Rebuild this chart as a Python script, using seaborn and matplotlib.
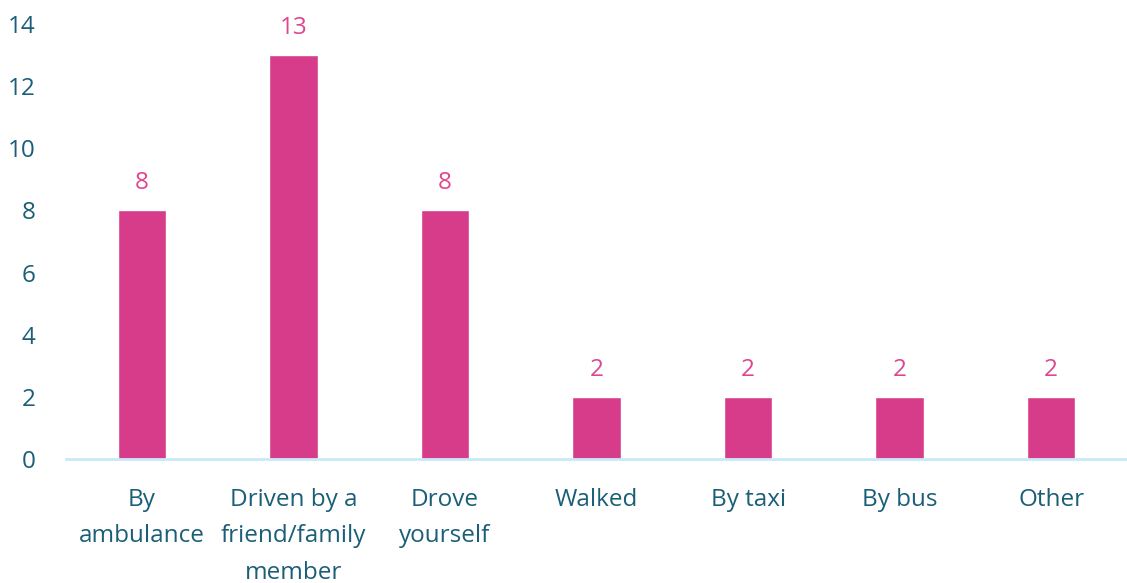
import matplotlib
matplotlib.use("Agg")
import matplotlib.pyplot as plt
import seaborn as sns
import pandas as pd

categories = ["By\nambulance", "Driven by a\nfriend/family\nmember", "Drove\nyourself",
              "Walked", "By taxi", "By bus", "Other"]
values = [8, 13, 8, 2, 2, 2, 2]
yticks = [0, 2, 4, 6, 8, 10, 12, 14]

bar_color = "#D63C8A"
label_color = "#E0458F"
text_color = "#1B5E78"
axis_color = "#C8EAF7"

sns.set_theme(style="white")
plt.rcParams['font.family'] = ['Open Sans', 'DejaVu Sans']

df = pd.DataFrame({"cat": categories, "val": values})

fig = plt.figure(figsize=(11.27, 5.83), dpi=100)
ax = fig.add_axes([66/1127, 1 - 459/583, 1 - 66/1127, (459 - 24)/583])

sns.barplot(data=df, x="cat", y="val", color=bar_color, width=0.32, saturation=1, ax=ax)

for i, v in enumerate(values):
    ax.annotate(str(v), xy=(i, v), xytext=(0, 11), textcoords="offset points",
                ha="center", va="bottom", color=label_color, fontsize=17.5)

ax.set_ylim(0, 14)
ax.set_xlim(-0.5, 6.5)
ax.set_yticks(yticks)
ax.set_yticklabels([str(t) for t in yticks])
ax.set_xlabel("")
ax.set_ylabel("")
for s in ["top", "right", "left"]:
    ax.spines[s].set_visible(False)
ax.spines["bottom"].set_color(axis_color)
ax.spines["bottom"].set_linewidth(2)
ax.tick_params(axis="y", length=0, pad=22, labelsize=17.5, labelcolor=text_color)
ax.tick_params(axis="x", length=0, pad=21, labelsize=17.5, labelcolor=text_color)
for lab in ax.get_xticklabels():
    lab.set_linespacing(1.68)
    lab.set_va("top")

fig.savefig("out.png", dpi=100)
